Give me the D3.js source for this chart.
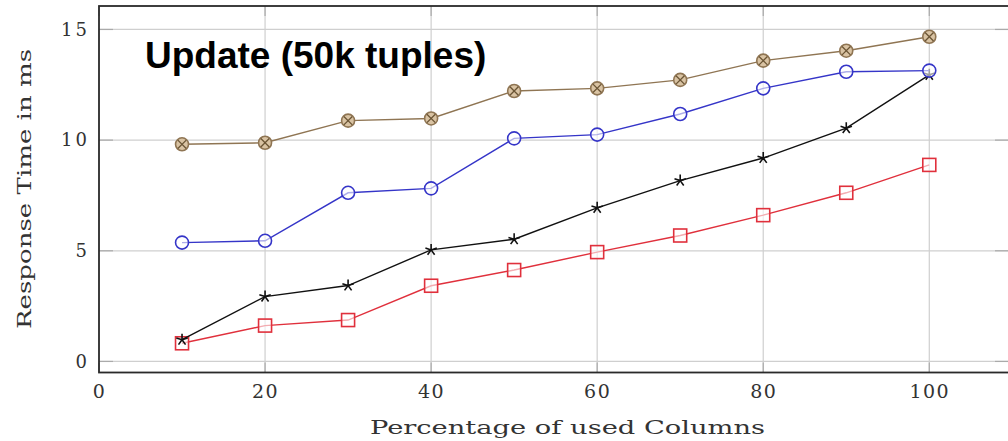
<!DOCTYPE html>
<html>
<head>
<meta charset="utf-8">
<script src="https://cdn.jsdelivr.net/npm/d3@7"></script>
<style>
  html, body { margin: 0; padding: 0; background: #fff; }
  svg { display: block; }
</style>
</head>
<body>
<svg id="chart" width="1008" height="441"></svg>
<script>
const columns = [10, 20, 30, 40, 50, 60, 70, 80, 90, 100];
const brownSeries = [9.81, 9.88, 10.88, 10.98, 12.22, 12.34, 12.72, 13.59, 14.04, 14.67];
const blueSeries  = [5.37, 5.45, 7.62, 7.82, 10.08, 10.25, 11.18, 12.34, 13.09, 13.14];
const blackSeries = [0.98, 2.93, 3.43, 5.04, 5.52, 6.94, 8.17, 9.19, 10.54, 12.95];
const redSeries   = [0.82, 1.62, 1.87, 3.42, 4.13, 4.94, 5.69, 6.61, 7.62, 8.88];
const xTicks = [0, 20, 40, 60, 80, 100];
const yTicks = [0, 5, 10, 15];
const titleText = "Update (50k tuples)";
const xLabel = "Percentage of used Columns";
const yLabel = "Response Time in ms";

const svg = d3.select("#chart");
const x = d3.scaleLinear().domain([0, 109.6]).range([99, 1009]);
const y = d3.scaleLinear().domain([-0.5, 16.06]).range([372.5, 6]);
const [x0, x1] = x.range();
const [y0, y1] = y.range();

// grid
const grid = svg.append("g");
grid.selectAll(".gx").data(xTicks.filter(d => d > 0)).join("line")
  .attr("x1", d => x(d)).attr("x2", d => x(d))
  .attr("y1", y1).attr("y2", y0)
  .attr("stroke", "#cfcfcf").attr("stroke-width", 1.2);
grid.selectAll(".gy").data(yTicks).join("line")
  .attr("x1", x0).attr("x2", x1)
  .attr("y1", d => y(d)).attr("y2", d => y(d))
  .attr("stroke", "#cfcfcf").attr("stroke-width", 1.2);
// inner ticks
const tk = svg.append("g").attr("stroke", "#aaa").attr("stroke-width", 1.2);
tk.selectAll(".tl").data(yTicks).join("line")
  .attr("x1", x0).attr("x2", x0 + 14).attr("y1", d => y(d)).attr("y2", d => y(d));
tk.selectAll(".tr").data(yTicks).join("line")
  .attr("x1", x1 - 14).attr("x2", x1).attr("y1", d => y(d)).attr("y2", d => y(d));
tk.selectAll(".tb").data(xTicks).join("line")
  .attr("x1", d => x(d)).attr("x2", d => x(d)).attr("y1", y0).attr("y2", y0 - 10);
tk.selectAll(".tt").data(xTicks).join("line")
  .attr("x1", d => x(d)).attr("x2", d => x(d)).attr("y1", y1).attr("y2", y1 + 10);

// frame
svg.append("rect").attr("x", x0).attr("y", y1).attr("width", x1 - x0).attr("height", y0 - y1)
  .attr("fill", "none").attr("stroke", "#2a2a2a").attr("stroke-width", 1.8);

// axes labels via d3 axes
const xAxis = svg.append("g").attr("transform", `translate(0,${y0})`)
  .call(d3.axisBottom(x).tickValues(xTicks).tickSize(0).tickPadding(12).tickFormat(d3.format("d")));
xAxis.select(".domain").remove();
xAxis.selectAll("text").attr("font-family", "DejaVu Serif").attr("font-size", 19)
  .attr("fill", "#333").attr("letter-spacing", 1.5);
const yAxis = svg.append("g").attr("transform", `translate(${x0},0)`)
  .call(d3.axisLeft(y).tickValues(yTicks).tickSize(0).tickPadding(9).tickFormat(d3.format("d")));
yAxis.select(".domain").remove();
yAxis.selectAll("text").attr("font-family", "DejaVu Serif").attr("font-size", 18)
  .attr("fill", "#333").attr("letter-spacing", 3);

svg.append("text").attr("x", 370).attr("y", 434)
  .attr("font-family", "DejaVu Serif").attr("font-size", 18).attr("fill", "#333")
  .attr("textLength", 395).attr("lengthAdjust", "spacingAndGlyphs").text(xLabel);
svg.append("text").attr("transform", "translate(31,329) rotate(-90)")
  .attr("font-family", "DejaVu Serif").attr("font-size", 18).attr("fill", "#333")
  .attr("textLength", 280).attr("lengthAdjust", "spacingAndGlyphs").text(yLabel);

// series
const series = [
  { vals: brownSeries, color: "#8f7553", marker: "otimes" },
  { vals: blueSeries, color: "#3535c8", marker: "circle" },
  { vals: blackSeries, color: "#111111", marker: "star" },
  { vals: redSeries, color: "#e0303c", marker: "square" }
];
const line = d3.line().x(d => x(d[0])).y(d => y(d[1]));
const plot = svg.append("g");
series.slice().reverse().forEach(s => {
  const pts = columns.map((c, i) => [c, s.vals[i]]);
  const g = plot.append("g");
  g.append("path").attr("d", line(pts)).attr("fill", "none")
    .attr("stroke", s.color).attr("stroke-width", 1.4);
  const m = g.selectAll("g.m").data(pts).join("g")
    .attr("transform", d => `translate(${x(d[0])},${y(d[1])})`);
  if (s.marker === "circle") {
    m.append("circle").attr("r", 6.5).attr("fill", "#fff").attr("fill-opacity", 0.6)
      .attr("stroke", s.color).attr("stroke-width", 1.6);
  } else if (s.marker === "square") {
    m.append("rect").attr("x", -6.5).attr("y", -6.5).attr("width", 13).attr("height", 13)
      .attr("fill", "#fff").attr("fill-opacity", 0.6).attr("stroke", s.color).attr("stroke-width", 1.6);
  } else if (s.marker === "otimes") {
    m.append("circle").attr("r", 6.5).attr("fill", "#d9c3a3")
      .attr("stroke", s.color).attr("stroke-width", 1.6);
    const r = 4.2;
    m.append("path").attr("d", `M${-r},${-r}L${r},${r}M${-r},${r}L${r},${-r}`)
      .attr("stroke", "#6b5535").attr("stroke-width", 1.3);
  } else if (s.marker === "star") {
    const arms = d3.range(5).map(k => -Math.PI / 2 + k * 2 * Math.PI / 5);
    m.append("path").attr("d", arms.map(a => `M0,0L${6 * Math.cos(a)},${6 * Math.sin(a)}`).join(""))
      .attr("stroke", s.color).attr("stroke-width", 1.6);
  }
});

// title
svg.append("text").attr("x", 145).attr("y", 68)
  .attr("font-family", "Liberation Sans, Arial, sans-serif").attr("font-weight", "bold")
  .attr("font-size", 37).attr("fill", "#000").text(titleText);
</script>
</body>
</html>
